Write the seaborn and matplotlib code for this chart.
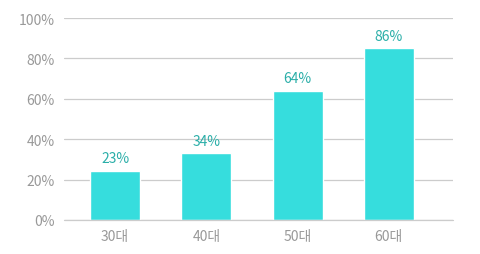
import matplotlib
matplotlib.use("Agg")
import matplotlib.pyplot as plt
import seaborn as sns
import pandas as pd
from matplotlib.ticker import FuncFormatter

categories = ["30대", "40대", "50대", "60대"]
bar_values = [24.5, 33, 64, 85]
label_texts = ["23%", "34%", "64%", "86%"]
y_ticks = [0, 20, 40, 60, 80, 100]

sns.set_theme(style="white")
plt.rcParams['font.family'] = ['Noto Sans CJK KR', 'DejaVu Sans']

df = pd.DataFrame({"cat": categories, "val": bar_values})

fig = plt.figure(figsize=(4.8, 2.55), dpi=100)
ax = fig.add_axes([64/480, 1-221/255, (452.7-64)/480, (221-19)/255])

sns.barplot(data=df, x="cat", y="val", color="#36dddd", width=0.548,
            saturation=1, ax=ax, zorder=3)

ax.set_ylim(0, 100)
ax.set_xlim(-0.56, 3.70)
ax.set_yticks(y_ticks)
ax.yaxis.set_major_formatter(FuncFormatter(lambda v, p: f"{int(v)}%"))
ax.grid(axis="y", color="#cccccc", linewidth=0.9, zorder=0)
ax.set_axisbelow(True)
ax.axhline(0, color="#cccccc", linewidth=0.9, zorder=4, clip_on=False)
for s in ax.spines.values():
    s.set_visible(False)
ax.set_xlabel("")
ax.set_ylabel("")
ax.tick_params(axis="both", length=0, colors="#999999", labelsize=10)
ax.tick_params(axis="y", pad=6.5)
ax.tick_params(axis="x", pad=6.5)

for i, (v, t) in enumerate(zip(bar_values, label_texts)):
    ax.annotate(t, (i, v), xytext=(0, 4), textcoords="offset points",
                ha="center", va="bottom", color="#2aaea8", fontsize=10)

fig.savefig("out.png", dpi=100)
